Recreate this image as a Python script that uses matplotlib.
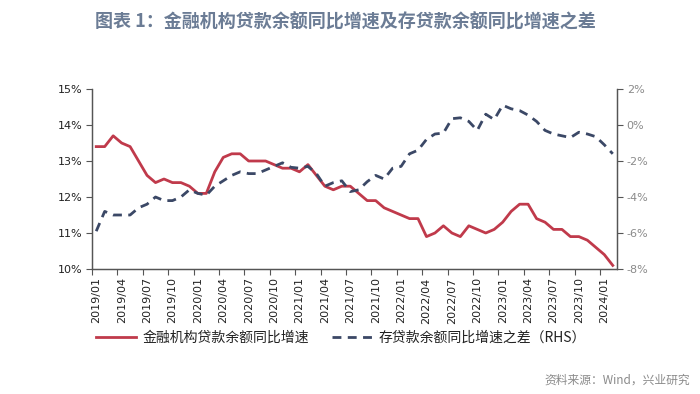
import matplotlib
matplotlib.use("Agg")
import matplotlib.pyplot as plt
import numpy as np

plt.rcParams['font.family'] = ['Noto Sans CJK SC', 'DejaVu Sans']

# monthly categories 2019/01 .. 2024/02
years = [2019, 2020, 2021, 2022, 2023, 2024]
months = [f"{y}/{m:02d}" for y in years for m in range(1, 13)][:62]

loan_growth = [13.4, 13.4, 13.7, 13.5, 13.4, 13.0, 12.6, 12.4, 12.5, 12.4, 12.4, 12.3,
               12.1, 12.1, 12.7, 13.1, 13.2, 13.2, 13.0, 13.0, 13.0, 12.9, 12.8, 12.8,
               12.7, 12.9, 12.6, 12.3, 12.2, 12.3, 12.3, 12.1, 11.9, 11.9, 11.7, 11.6,
               11.5, 11.4, 11.4, 10.9, 11.0, 11.2, 11.0, 10.9, 11.2, 11.1, 11.0, 11.1,
               11.3, 11.6, 11.8, 11.8, 11.4, 11.3, 11.1, 11.1, 10.9, 10.9, 10.8, 10.6,
               10.4, 10.1]

dep_loan_gap = [-5.9, -4.8, -5.0, -5.0, -5.0, -4.6, -4.4, -4.0, -4.2, -4.2, -4.0, -3.6,
                -3.8, -3.9, -3.4, -3.1, -2.8, -2.6, -2.7, -2.7, -2.5, -2.3, -2.1, -2.35,
                -2.4, -2.3, -2.7, -3.4, -3.2, -3.1, -3.7, -3.6, -3.15, -2.8, -3.0, -2.4,
                -2.3, -1.6, -1.4, -0.8, -0.5, -0.45, 0.35, 0.4, 0.2, -0.3, 0.6, 0.3,
                1.1, 0.9, 0.8, 0.55, 0.2, -0.3, -0.5, -0.6, -0.7, -0.4, -0.5, -0.65,
                -1.1, -1.6]

left_ticks = [10, 11, 12, 13, 14, 15]
right_ticks = [-8, -6, -4, -2, 0, 2]

legend_labels = ['金融机构贷款余额同比增速', '存贷款余额同比增速之差（RHS）']
title_text = '图表 1：金融机构贷款余额同比增速及存贷款余额同比增速之差'
source_text = '资料来源：Wind，兴业研究'

red = '#C03A4B'
navy = '#3B4866'
spine_c = '#555555'

fig = plt.figure(figsize=(7.0, 3.94), dpi=100)
ax = fig.add_axes([92/700, 1-269/394, (617-92)/700, (269-89)/394])
ax2 = ax.twinx()

x = np.arange(len(months))
l1, = ax.plot(x, loan_growth, color=red, lw=2.0, zorder=3)
l2, = ax2.plot(x, dep_loan_gap, color=navy, lw=2.0, dashes=(3.2, 2.3), zorder=3)

ax.set_xlim(-0.5, len(months) - 0.5)
ax.set_ylim(10, 15)
ax2.set_ylim(-8, 2)

ax.set_yticks(left_ticks)
ax.set_yticklabels([f"{v}%" for v in left_ticks], fontsize=8, color='#222222',
                   family='DejaVu Sans')
ax2.set_yticks(right_ticks)
ax2.set_yticklabels([f"{v}%" for v in right_ticks], fontsize=8, color='#8a8a8a',
                    family='DejaVu Sans')

lab_pos = x[::3]
ax.set_xticks(lab_pos)
ax.set_xticklabels([months[i] for i in lab_pos], rotation=90, fontsize=8,
                   color='#222222', family='DejaVu Sans')
ax.set_xticks(np.arange(-0.5, len(months), 3), minor=True)
ax.tick_params(axis='x', which='major', length=0, pad=6)
ax.tick_params(axis='x', which='minor', length=4, color=spine_c, width=0.8)
ax.tick_params(axis='y', length=4, color=spine_c, width=0.8, pad=3)
ax2.tick_params(axis='y', length=4, color=spine_c, width=0.8, pad=3)

for a in (ax, ax2):
    a.spines['top'].set_visible(False)
    for s in ('left', 'right', 'bottom'):
        a.spines[s].set_color(spine_c)
        a.spines[s].set_linewidth(0.9)

fig.legend([l1, l2], legend_labels, loc='center', bbox_to_anchor=(341/700, 1-338/394),
           ncol=2, frameon=False, fontsize=10, handlelength=2.9, columnspacing=1.6,
           handletextpad=0.5, labelcolor='#222222')

fig.text(345/700, 1-22/394, title_text, ha='center', va='center', fontsize=13,
         fontweight='bold', color='#6B7C95')
fig.text(690/700, 1-380/394, source_text, ha='right', va='center', fontsize=8.5,
         color='#8a8a8a')

fig.savefig('out.png', dpi=100)
